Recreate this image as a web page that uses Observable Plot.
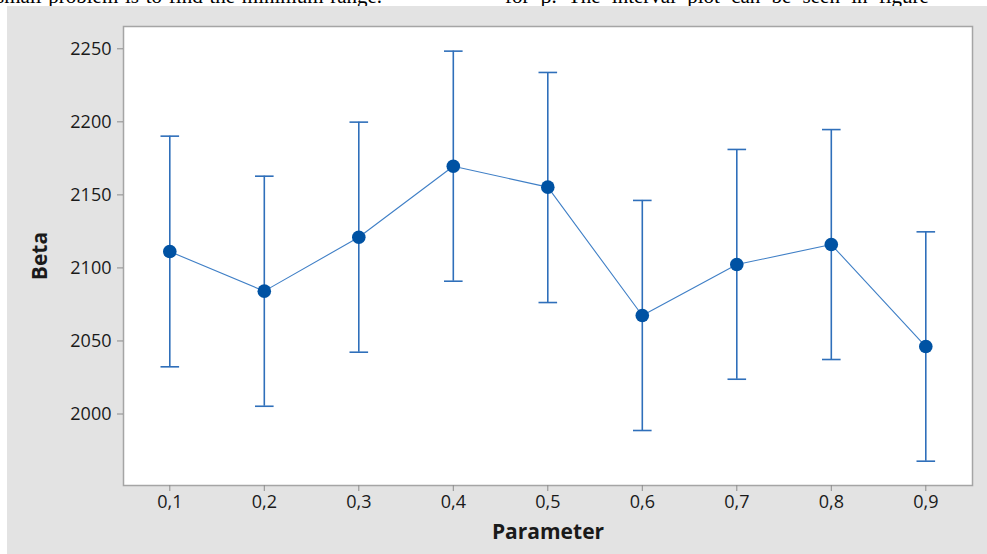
<!DOCTYPE html>
<html>
<head>
<meta charset="utf-8">
<script src="https://cdn.jsdelivr.net/npm/d3@7"></script>
<script src="https://cdn.jsdelivr.net/npm/@observablehq/plot@0.6"></script>
<style>
  html, body { margin: 0; padding: 0; background: #ffffff; width: 987px; height: 554px; overflow: hidden; }
  #doc { position: absolute; left: 0; top: 0; width: 987px; height: 6px; overflow: hidden; }
  #doc span { position: absolute; top: -14.5px; font-family: "Liberation Serif", serif; font-size: 21px; line-height: 21px; white-space: nowrap; color: #000; }
  #chart { position: absolute; left: 7px; top: 6px; }
</style>
</head>
<body>
<div id="doc"><span style="left:-4px; word-spacing:1.5px">small problem is to find the minimum range.</span><span style="left:505px; word-spacing:6px">for β. The interval plot can be seen in figure</span></div>
<div id="chart"></div>
<script>
const params = [0.1, 0.2, 0.3, 0.4, 0.5, 0.6, 0.7, 0.8, 0.9];
const tickLabels = ["0,1", "0,2", "0,3", "0,4", "0,5", "0,6", "0,7", "0,8", "0,9"];
const means = [2111.2, 2084.1, 2121.0, 2169.6, 2155.3, 2067.4, 2102.3, 2116.0, 2046.2];
const lower = [2032.3, 2005.3, 2042.3, 2090.9, 2076.3, 1988.7, 2023.8, 2037.3, 1967.7];
const upper = [2190.2, 2162.8, 2199.8, 2248.4, 2233.8, 2146.2, 2181.1, 2194.7, 2124.7];
const yTicks = [2000, 2050, 2100, 2150, 2200, 2250];
const xTitle = "Parameter";
const yTitle = "Beta";

const data = params.map((p, i) => ({p, mean: means[i], lo: lower[i], hi: upper[i]}));

const capSymbol = {
  draw(ctx, size) {
    const r = Math.sqrt(size / Math.PI);
    ctx.moveTo(-r, 0);
    ctx.lineTo(r, 0);
  }
};

const barColor = "#2f6fba";
const dotColor = "#0052a3";
const lineColor = "#3f7fc6";
const tickColor = "#8c8c8c";
const textColor = "#1a1a1a";

const chart = Plot.plot({
  width: 980,
  height: 548,
  marginLeft: 116,
  marginRight: 15,
  marginTop: 20,
  marginBottom: 69,
  style: { fontFamily: "'Open Sans', sans-serif", background: "#e3e3e3", color: textColor, overflow: "visible" },
  x: { type: "linear", domain: [0.1, 0.9], range: [162.3, 918.3] },
  y: { type: "linear", domain: [2000, 2250], range: [407.5, 42.3] },
  marks: [
    Plot.frame({ fill: "white", stroke: "#a5a5a5", strokeWidth: 1.5 }),
    Plot.line(data, { x: "p", y: "mean", stroke: lineColor, strokeWidth: 1.1 }),
    Plot.ruleX(data, { x: "p", y1: "lo", y2: "hi", stroke: barColor, strokeWidth: 1.6 }),
    Plot.dot(data, { x: "p", y: "hi", symbol: capSymbol, r: 9.3, fill: "none", stroke: barColor, strokeWidth: 1.6 }),
    Plot.dot(data, { x: "p", y: "lo", symbol: capSymbol, r: 9.3, fill: "none", stroke: barColor, strokeWidth: 1.6 }),
    Plot.dot(data, { x: "p", y: "mean", r: 6.8, fill: dotColor, stroke: "none" }),
    Plot.axisX(params, { tickFormat: d => tickLabels[params.indexOf(d)], tickSize: 6, tickPadding: 4, fontSize: 18, fontWeight: 500, stroke: tickColor, fill: textColor, label: null }),
    Plot.axisY(yTicks, { tickSize: 6, tickPadding: 6, fontSize: 18, fontWeight: 500, stroke: tickColor, fill: textColor, label: null, tickFormat: d => String(d) }),
    Plot.text([xTitle], { frameAnchor: "bottom", text: d => d, dy: 46.7, textAnchor: "middle", lineAnchor: "middle", fontSize: 21, fontWeight: "bold", fill: textColor }),
    Plot.text([yTitle], { frameAnchor: "left", text: d => d, dx: -83, rotate: -90, textAnchor: "middle", lineAnchor: "middle", fontSize: 21, fontWeight: "bold", fill: textColor })
  ]
});
document.getElementById("chart").appendChild(chart);
</script>
</body>
</html>
